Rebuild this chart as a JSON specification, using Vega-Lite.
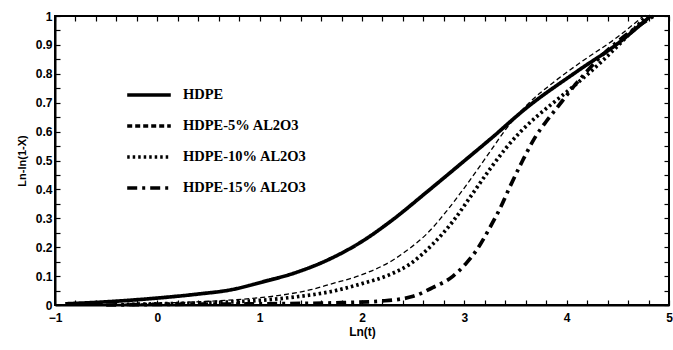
{
  "$schema": "https://vega.github.io/schema/vega-lite/v6.json",
  "width": 614,
  "height": 289,
  "autosize": "none",
  "padding": {"left": 55, "top": 16, "right": 4, "bottom": 45},
  "background": "white",
  "config": {
    "view": {"stroke": "black", "strokeWidth": 2},
    "axis": {
      "labelFont": "Liberation Sans", "labelFontWeight": "bold", "labelFontSize": 12, "labelColor": "black",
      "titleFont": "Liberation Sans", "titleFontWeight": "bold", "titleColor": "black",
      "tickColor": "black", "domainColor": "black", "domainWidth": 2, "grid": false, "tickSize": -5, "tickWidth": 1.2
    }
  },
  "resolve": {"axis": {"x": "independent", "y": "independent"}},
  "data": {"values": [
    {"s": "HDPE", "x": -0.9, "y": 0.004}, {"s": "HDPE", "x": -0.5, "y": 0.011}, {"s": "HDPE", "x": 0, "y": 0.024},
    {"s": "HDPE", "x": 0.4, "y": 0.038}, {"s": "HDPE", "x": 0.71, "y": 0.052}, {"s": "HDPE", "x": 1.03, "y": 0.08},
    {"s": "HDPE", "x": 1.36, "y": 0.113}, {"s": "HDPE", "x": 1.69, "y": 0.16}, {"s": "HDPE", "x": 2.0, "y": 0.22},
    {"s": "HDPE", "x": 2.3, "y": 0.295}, {"s": "HDPE", "x": 2.63, "y": 0.39}, {"s": "HDPE", "x": 2.96, "y": 0.487},
    {"s": "HDPE", "x": 3.28, "y": 0.582}, {"s": "HDPE", "x": 3.6, "y": 0.68}, {"s": "HDPE", "x": 4.1, "y": 0.808},
    {"s": "HDPE", "x": 4.5, "y": 0.905}, {"s": "HDPE", "x": 4.82, "y": 1.0},

    {"s": "HDPE-5% AL2O3", "x": -0.4, "y": 0.002}, {"s": "HDPE-5% AL2O3", "x": 0, "y": 0.006}, {"s": "HDPE-5% AL2O3", "x": 0.5, "y": 0.013},
    {"s": "HDPE-5% AL2O3", "x": 0.9, "y": 0.022}, {"s": "HDPE-5% AL2O3", "x": 1.23, "y": 0.035}, {"s": "HDPE-5% AL2O3", "x": 1.5, "y": 0.053},
    {"s": "HDPE-5% AL2O3", "x": 1.69, "y": 0.072}, {"s": "HDPE-5% AL2O3", "x": 2.0, "y": 0.105}, {"s": "HDPE-5% AL2O3", "x": 2.3, "y": 0.155},
    {"s": "HDPE-5% AL2O3", "x": 2.47, "y": 0.197}, {"s": "HDPE-5% AL2O3", "x": 2.63, "y": 0.245},
    {"s": "HDPE-5% AL2O3", "x": 2.82, "y": 0.322}, {"s": "HDPE-5% AL2O3", "x": 3.02, "y": 0.415}, {"s": "HDPE-5% AL2O3", "x": 3.25, "y": 0.53},
    {"s": "HDPE-5% AL2O3", "x": 3.42, "y": 0.615}, {"s": "HDPE-5% AL2O3", "x": 3.62, "y": 0.695}, {"s": "HDPE-5% AL2O3", "x": 3.87, "y": 0.77},
    {"s": "HDPE-5% AL2O3", "x": 4.13, "y": 0.838}, {"s": "HDPE-5% AL2O3", "x": 4.5, "y": 0.928}, {"s": "HDPE-5% AL2O3", "x": 4.75, "y": 1.0},

    {"s": "HDPE-10% AL2O3", "x": -0.3, "y": 0.002}, {"s": "HDPE-10% AL2O3", "x": 0, "y": 0.004}, {"s": "HDPE-10% AL2O3", "x": 0.5, "y": 0.008},
    {"s": "HDPE-10% AL2O3", "x": 1.0, "y": 0.016}, {"s": "HDPE-10% AL2O3", "x": 1.35, "y": 0.028}, {"s": "HDPE-10% AL2O3", "x": 1.69, "y": 0.046},
    {"s": "HDPE-10% AL2O3", "x": 2.0, "y": 0.074}, {"s": "HDPE-10% AL2O3", "x": 2.27, "y": 0.105}, {"s": "HDPE-10% AL2O3", "x": 2.47, "y": 0.142},
    {"s": "HDPE-10% AL2O3", "x": 2.69, "y": 0.21}, {"s": "HDPE-10% AL2O3", "x": 2.89, "y": 0.29}, {"s": "HDPE-10% AL2O3", "x": 3.08, "y": 0.385},
    {"s": "HDPE-10% AL2O3", "x": 3.25, "y": 0.47}, {"s": "HDPE-10% AL2O3", "x": 3.4, "y": 0.54}, {"s": "HDPE-10% AL2O3", "x": 3.55, "y": 0.6},
    {"s": "HDPE-10% AL2O3", "x": 3.7, "y": 0.65}, {"s": "HDPE-10% AL2O3", "x": 3.87, "y": 0.7}, {"s": "HDPE-10% AL2O3", "x": 4.03, "y": 0.746},
    {"s": "HDPE-10% AL2O3", "x": 4.35, "y": 0.845}, {"s": "HDPE-10% AL2O3", "x": 4.55, "y": 0.915}, {"s": "HDPE-10% AL2O3", "x": 4.78, "y": 1.0},

    {"s": "HDPE-15% AL2O3", "x": -0.5, "y": 0.0}, {"s": "HDPE-15% AL2O3", "x": 0, "y": 0.002}, {"s": "HDPE-15% AL2O3", "x": 1.0, "y": 0.004},
    {"s": "HDPE-15% AL2O3", "x": 1.8, "y": 0.008}, {"s": "HDPE-15% AL2O3", "x": 2.2, "y": 0.014}, {"s": "HDPE-15% AL2O3", "x": 2.5, "y": 0.03},
    {"s": "HDPE-15% AL2O3", "x": 2.69, "y": 0.06}, {"s": "HDPE-15% AL2O3", "x": 2.89, "y": 0.1}, {"s": "HDPE-15% AL2O3", "x": 3.02, "y": 0.145},
    {"s": "HDPE-15% AL2O3", "x": 3.12, "y": 0.19}, {"s": "HDPE-15% AL2O3", "x": 3.25, "y": 0.268}, {"s": "HDPE-15% AL2O3", "x": 3.35, "y": 0.335},
    {"s": "HDPE-15% AL2O3", "x": 3.44, "y": 0.405}, {"s": "HDPE-15% AL2O3", "x": 3.57, "y": 0.5}, {"s": "HDPE-15% AL2O3", "x": 3.7, "y": 0.585},
    {"s": "HDPE-15% AL2O3", "x": 3.8, "y": 0.635}, {"s": "HDPE-15% AL2O3", "x": 3.9, "y": 0.68}, {"s": "HDPE-15% AL2O3", "x": 4.09, "y": 0.765},
    {"s": "HDPE-15% AL2O3", "x": 4.35, "y": 0.865}, {"s": "HDPE-15% AL2O3", "x": 4.6, "y": 0.94}, {"s": "HDPE-15% AL2O3", "x": 4.85, "y": 1.0}
  ]},
  "layer": [
    {
      "transform": [{"filter": "datum.s != 'HDPE-5% AL2O3'"}],
      "mark": {"type": "line", "interpolate": "monotone", "color": "black", "strokeCap": "butt", "strokeWidth": 3.7},
      "encoding": {
        "x": {"field": "x", "type": "quantitative", "scale": {"domain": [-1, 5], "nice": false},
          "axis": {"title": "Ln(t)", "titleFontSize": 12, "titlePadding": 3,
            "values": [-1,-0.8,-0.6,-0.4,-0.2,0,0.2,0.4,0.6,0.8,1,1.2,1.4,1.6,1.8,2,2.2,2.4,2.6,2.8,3,3.2,3.4,3.6,3.8,4,4.2,4.4,4.6,4.8,5],
            "labelExpr": "abs(datum.value - round(datum.value)) < 0.01 ? format(round(datum.value), 'd') : ''",
            "labelPadding": 12, "labelFlush": false}},
        "y": {"field": "y", "type": "quantitative", "scale": {"domain": [0, 1], "nice": false},
          "axis": {"title": "Ln-ln(1-X)", "titleFontSize": 11, "titlePadding": 8,
            "values": [0,0.05,0.1,0.15,0.2,0.25,0.3,0.35,0.4,0.45,0.5,0.55,0.6,0.65,0.7,0.75,0.8,0.85,0.9,0.95,1],
            "labelExpr": "round(datum.value*20) % 2 == 0 ? (datum.value == 0 ? '0' : datum.value == 1 ? '1' : format(datum.value, '.1f')) : ''",
            "labelPadding": 8}},
        "strokeDash": {"field": "s", "type": "nominal",
          "scale": {"domain": ["HDPE", "HDPE-5% AL2O3", "HDPE-10% AL2O3", "HDPE-15% AL2O3"],
            "range": [[1, 0], [5, 3], [2.5, 3], [10, 5, 3, 5]]},
          "legend": {"title": null, "orient": "none", "legendX": 70, "legendY": 55,
            "symbolType": "stroke", "symbolSize": 1900, "symbolStrokeWidth": 3.5, "symbolStrokeColor": "black",
            "labelFont": "Liberation Serif", "labelFontWeight": "bold", "labelFontSize": 14.5, "labelColor": "black",
            "labelOffset": 10, "rowPadding": -12, "labelLimit": 300}}
      }
    },
    {
      "transform": [{"filter": "datum.s == 'HDPE-5% AL2O3'"}],
      "mark": {"type": "line", "interpolate": "monotone", "color": "black", "strokeCap": "butt", "strokeWidth": 1.3},
      "encoding": {
        "x": {"field": "x", "type": "quantitative", "axis": null},
        "y": {"field": "y", "type": "quantitative", "axis": null},
        "strokeDash": {"field": "s", "type": "nominal"}
      }
    },
    {
      "mark": {"type": "point", "opacity": 0},
      "encoding": {
        "x": {"field": "x", "type": "quantitative",
          "axis": {"orient": "top", "title": null, "labels": false, "domain": false,
            "values": [-1,-0.8,-0.6,-0.4,-0.2,0,0.2,0.4,0.6,0.8,1,1.2,1.4,1.6,1.8,2,2.2,2.4,2.6,2.8,3,3.2,3.4,3.6,3.8,4,4.2,4.4,4.6,4.8,5]}},
        "y": {"field": "y", "type": "quantitative",
          "axis": {"orient": "right", "title": null, "labels": false, "domain": false,
            "values": [0,0.05,0.1,0.15,0.2,0.25,0.3,0.35,0.4,0.45,0.5,0.55,0.6,0.65,0.7,0.75,0.8,0.85,0.9,0.95,1]}}
      }
    }
  ]
}
